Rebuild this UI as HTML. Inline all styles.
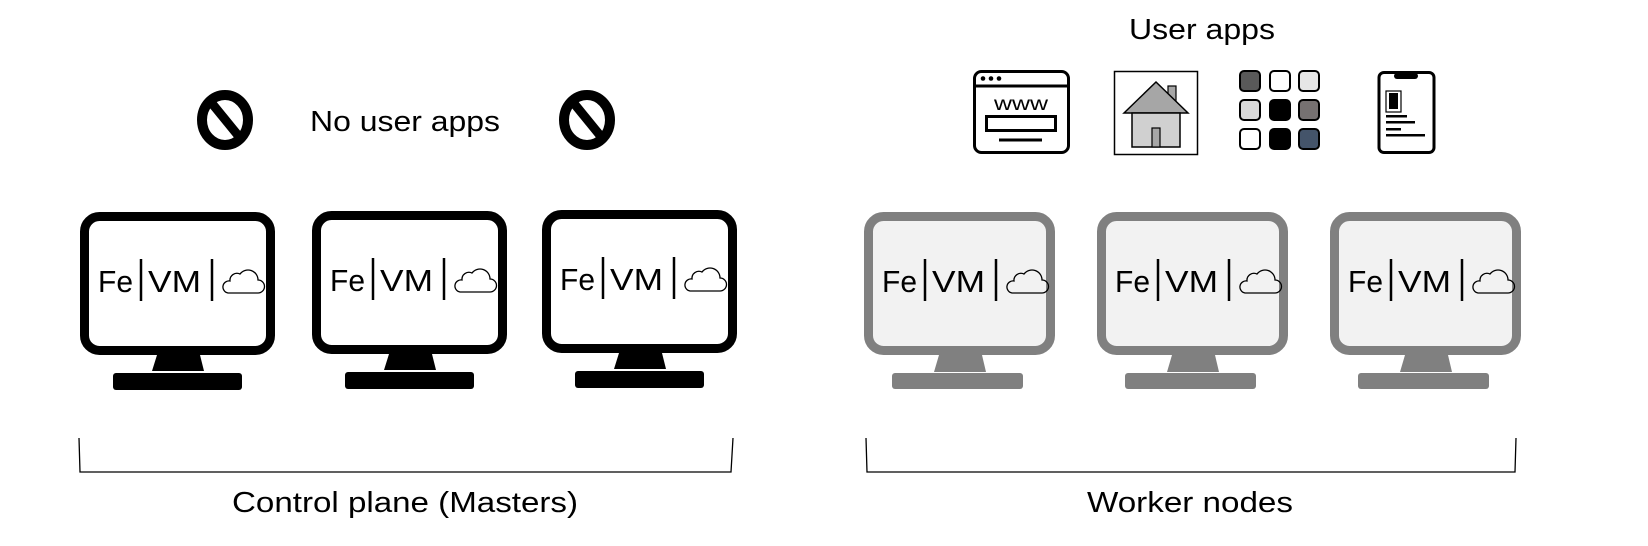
<!DOCTYPE html>
<html><head><meta charset="utf-8"><style>
html,body{margin:0;padding:0;background:#fff;}
svg{display:block;}
text{font-family:"Liberation Sans",sans-serif;fill:#000;}
</style></head><body>
<svg width="1648" height="546" viewBox="0 0 1648 546">
<defs>
<g id="mon-content">
  <text x="18" y="80" font-size="31" textLength="35" lengthAdjust="spacingAndGlyphs">Fe</text>
  <line x1="61" y1="47" x2="61" y2="89" stroke="#000" stroke-width="2.5"/>
  <text x="68" y="80" font-size="31" textLength="53" lengthAdjust="spacingAndGlyphs">VM</text>
  <line x1="132" y1="47" x2="132" y2="89" stroke="#000" stroke-width="2.5"/>
  <path d="M148,81 h30 a6.5,6.5 0 0 0 0,-13 a10,10 0 0 0 -18,-6 a7,7 0 0 0 -10,7 a6,6 0 0 0 -2,12 z" fill="none" stroke="#000" stroke-width="1.3"/>
</g>
</defs>

<g transform="translate(80,212)">
  <rect x="4.5" y="4.5" width="186" height="134" rx="15" fill="#fff" stroke="#000" stroke-width="9"/>
  <polygon points="77,143 120,143 124,159 72,159" fill="#000"/>
  <rect x="33" y="161" width="129" height="17" rx="3" fill="#000"/>
  <use href="#mon-content"/>
</g>
<g transform="translate(312,211)">
  <rect x="4.5" y="4.5" width="186" height="134" rx="15" fill="#fff" stroke="#000" stroke-width="9"/>
  <polygon points="77,143 120,143 124,159 72,159" fill="#000"/>
  <rect x="33" y="161" width="129" height="17" rx="3" fill="#000"/>
  <use href="#mon-content"/>
</g>
<g transform="translate(542,210)">
  <rect x="4.5" y="4.5" width="186" height="134" rx="15" fill="#fff" stroke="#000" stroke-width="9"/>
  <polygon points="77,143 120,143 124,159 72,159" fill="#000"/>
  <rect x="33" y="161" width="129" height="17" rx="3" fill="#000"/>
  <use href="#mon-content"/>
</g>

<g transform="translate(864,212)">
  <rect x="4.5" y="4.5" width="182" height="134" rx="15" fill="#f2f2f2" stroke="#808080" stroke-width="9"/>
  <polygon points="75,143 118,143 122,160 70,160" fill="#808080"/>
  <rect x="28" y="161" width="131" height="16" rx="3" fill="#808080"/>
  <use href="#mon-content"/>
</g>
<g transform="translate(1097,212)">
  <rect x="4.5" y="4.5" width="182" height="134" rx="15" fill="#f2f2f2" stroke="#808080" stroke-width="9"/>
  <polygon points="75,143 118,143 122,160 70,160" fill="#808080"/>
  <rect x="28" y="161" width="131" height="16" rx="3" fill="#808080"/>
  <use href="#mon-content"/>
</g>
<g transform="translate(1330,212)">
  <rect x="4.5" y="4.5" width="182" height="134" rx="15" fill="#f2f2f2" stroke="#808080" stroke-width="9"/>
  <polygon points="75,143 118,143 122,160 70,160" fill="#808080"/>
  <rect x="28" y="161" width="131" height="16" rx="3" fill="#808080"/>
  <use href="#mon-content"/>
</g>

<g>
  <ellipse cx="225" cy="120" rx="23" ry="25" fill="none" stroke="#000" stroke-width="10"/>
  <line x1="210" y1="101" x2="241" y2="139" stroke="#000" stroke-width="9"/>
</g>
<g>
  <ellipse cx="587" cy="120" rx="23" ry="25" fill="none" stroke="#000" stroke-width="10"/>
  <line x1="572" y1="101" x2="603" y2="139" stroke="#000" stroke-width="9"/>
</g>
<text x="310" y="131" font-size="29" textLength="190" lengthAdjust="spacingAndGlyphs">No user apps</text>

<text x="1202" y="39" font-size="29" text-anchor="middle" textLength="146" lengthAdjust="spacingAndGlyphs">User apps</text>

<g>
  <rect x="974.5" y="71.5" width="94" height="81" rx="7" fill="#fff" stroke="#000" stroke-width="3"/>
  <line x1="974" y1="86" x2="1069" y2="86" stroke="#000" stroke-width="3"/>
  <circle cx="983" cy="78.5" r="2.3"/><circle cx="991" cy="78.5" r="2.3"/><circle cx="999" cy="78.5" r="2.3"/>
  <text x="1021" y="110" font-size="19" text-anchor="middle" textLength="54" lengthAdjust="spacingAndGlyphs">www</text>
  <rect x="986.5" y="116.5" width="69" height="14" fill="#fff" stroke="#000" stroke-width="3"/>
  <line x1="999" y1="140" x2="1042" y2="140" stroke="#000" stroke-width="3"/>
</g>
<g>
  <rect x="1114.5" y="71.5" width="83" height="83" fill="#fff" stroke="#000" stroke-width="1.5"/>
  <rect x="1168" y="86" width="8" height="18" fill="#a6a6a6" stroke="#000" stroke-width="1.2"/>
  <polygon points="1124,113 1156,82 1188,113" fill="#a6a6a6" stroke="#000" stroke-width="1.5"/>
  <rect x="1132" y="113" width="48" height="34" fill="#d0d0d0" stroke="#000" stroke-width="1.5"/>
  <rect x="1152" y="128" width="8" height="19" fill="#a6a6a6" stroke="#000" stroke-width="1.2"/>
</g>
<g stroke="#000" stroke-width="2">
  <rect x="1240" y="71" width="20" height="20" rx="4" fill="#595959"/>
  <rect x="1270" y="71" width="20" height="20" rx="4" fill="#fff"/>
  <rect x="1299" y="71" width="20" height="20" rx="4" fill="#e6e6e6"/>
  <rect x="1240" y="100" width="20" height="20" rx="4" fill="#d9d9d9"/>
  <rect x="1270" y="100" width="20" height="20" rx="4" fill="#000"/>
  <rect x="1299" y="100" width="20" height="20" rx="4" fill="#767171"/>
  <rect x="1240" y="129" width="20" height="20" rx="4" fill="#fff"/>
  <rect x="1270" y="129" width="20" height="20" rx="4" fill="#000"/>
  <rect x="1299" y="129" width="20" height="20" rx="4" fill="#44546a"/>
</g>
<g>
  <rect x="1379" y="72.5" width="55" height="80" rx="5" fill="#fff" stroke="#000" stroke-width="3"/>
  <rect x="1394" y="73" width="24" height="6" rx="3" fill="#000"/>
  <rect x="1386" y="91" width="15" height="21" fill="#fff" stroke="#000" stroke-width="1.2"/>
  <rect x="1389" y="93" width="9" height="16" fill="#000"/>
  <rect x="1386" y="115" width="21" height="2.5" fill="#000"/>
  <rect x="1386" y="121" width="29" height="2.5" fill="#000"/>
  <rect x="1386" y="128" width="15" height="2.5" fill="#000"/>
  <rect x="1386" y="134" width="39" height="2.5" fill="#000"/>
</g>

<path d="M79,438 L80,472 L731,472 L733,438" fill="none" stroke="#000" stroke-width="1.3"/>
<path d="M866,438 L867,472 L1515,472 L1516,438" fill="none" stroke="#000" stroke-width="1.3"/>

<text x="405" y="512" font-size="29" text-anchor="middle" textLength="346" lengthAdjust="spacingAndGlyphs">Control plane (Masters)</text>
<text x="1190" y="512" font-size="29" text-anchor="middle" textLength="206" lengthAdjust="spacingAndGlyphs">Worker nodes</text>
</svg>
</body></html>
